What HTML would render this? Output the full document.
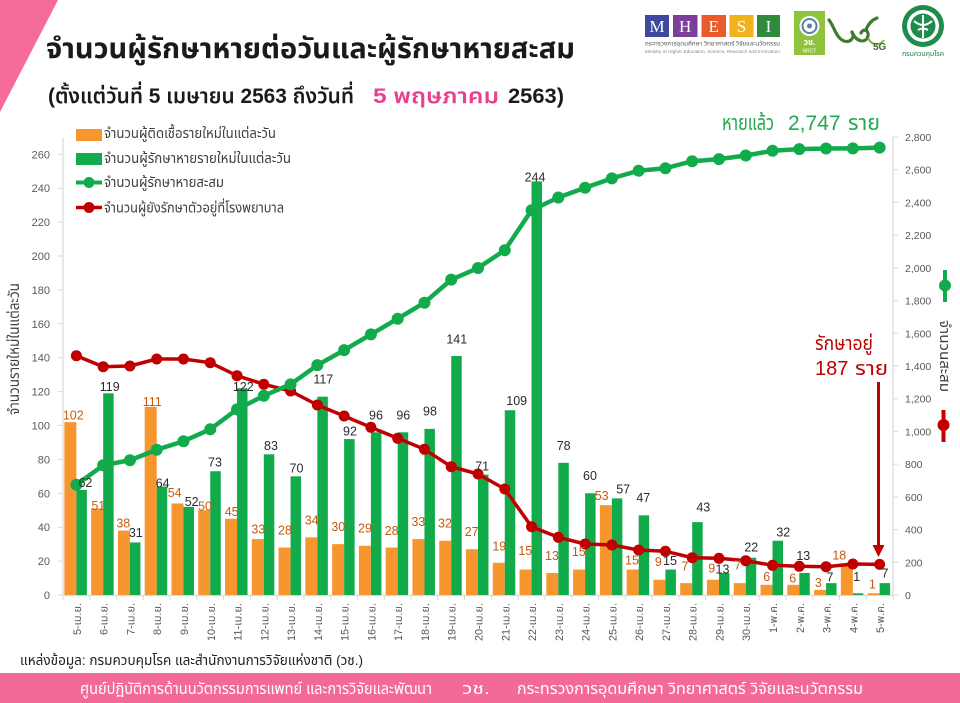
<!DOCTYPE html>
<html><head><meta charset="utf-8">
<style>
html,body{margin:0;padding:0;background:#fff;}
svg{display:block;}
text{font-family:"Liberation Sans","Noto Sans Thai","Noto Sans Thai UI","Loma","Garuda","Tlwg Typo","Norasi","DejaVu Sans",sans-serif;}
</style></head><body>
<svg width="960" height="703" viewBox="0 0 960 703" xmlns="http://www.w3.org/2000/svg">
<rect width="960" height="703" fill="#fff"/>
<polygon points="0,0 58,0 0,112" fill="#f56b99"/>

<!-- Title -->
<text x="46" y="58" font-size="28" font-weight="bold" fill="#1a1a1a" textLength="529" lengthAdjust="spacingAndGlyphs">จำนวนผู้รักษาหายต่อวันและผู้รักษาหายสะสม</text>
<text x="48" y="103" font-size="21" font-weight="600" fill="#1a1a1a" textLength="306" lengthAdjust="spacingAndGlyphs">(ตั้งแต่วันที่ 5 เมษายน 2563 ถึงวันที่</text>
<text x="373" y="103" font-size="21" font-weight="600" fill="#ea3f8f" textLength="126" lengthAdjust="spacingAndGlyphs">5 พฤษภาคม</text>
<text x="508" y="103" font-size="21" font-weight="600" fill="#1a1a1a" textLength="56" lengthAdjust="spacingAndGlyphs">2563)</text>

<!-- Logos -->
<rect x="645" y="15" width="24" height="22" fill="#3e4a9e"/>
<rect x="673" y="15" width="24.5" height="22" fill="#7b3f98"/>
<rect x="701.5" y="15" width="24.5" height="22" fill="#e95b2b"/>
<rect x="729.5" y="15" width="24" height="22" fill="#f1b21e"/>
<rect x="757" y="15" width="23" height="22" fill="#2f8a3c"/>
<g font-size="17" fill="#fff" text-anchor="middle" style="font-family:'Liberation Serif',serif">
<text x="657" y="32" style="font-family:'Liberation Serif',serif">M</text><text x="685.2" y="32" style="font-family:'Liberation Serif',serif">H</text><text x="713.7" y="32" style="font-family:'Liberation Serif',serif">E</text><text x="741.5" y="32" style="font-family:'Liberation Serif',serif">S</text><text x="768.5" y="32" style="font-family:'Liberation Serif',serif">I</text>
</g>
<text x="645" y="45.5" font-size="6" fill="#555" textLength="135" lengthAdjust="spacingAndGlyphs">กระทรวงการอุดมศึกษา วิทยาศาสตร์ วิจัยและนวัตกรรม</text>
<text x="645" y="53" font-size="4.5" fill="#888" textLength="135" lengthAdjust="spacingAndGlyphs">Ministry of Higher Education, Science, Research and Innovation</text>

<rect x="794" y="11" width="31" height="44" fill="#8fc33e"/>
<circle cx="809.5" cy="26" r="10" fill="#fff"/>
<circle cx="809.5" cy="26" r="7" fill="none" stroke="#5a7fa8" stroke-width="2"/>
<circle cx="809.5" cy="26" r="2.5" fill="#5a7fa8"/>
<text x="809.5" y="45" font-size="8.5" font-weight="bold" fill="#fff" text-anchor="middle">วช.</text>
<text x="809.5" y="52.5" font-size="5" fill="#fff" text-anchor="middle">NRCT</text>

<path d="M829,20 C834,26 836,38 844,41 C851,43 855,37 852,32" stroke="#3d7a2c" stroke-width="3.2" fill="none" stroke-linecap="round"/>
<path d="M852,32 C856,42 866,44 868,36 C869,30 863,28 861,33 M866,30 C868,24 872,20 877,18" stroke="#3d7a2c" stroke-width="3.2" fill="none" stroke-linecap="round"/>
<path d="M868,38 C872,46 880,46 884,40" stroke="#7fb04a" stroke-width="2" fill="none"/>
<text x="873" y="50" font-size="10" font-weight="bold" fill="#4a6a2a">5G</text>

<circle cx="923" cy="26" r="21" fill="#1f8b4c"/>
<circle cx="923" cy="26" r="16" fill="#fff"/>
<circle cx="923" cy="26" r="12.5" fill="#1f8b4c"/>
<path d="M923,15 V38 M914,21 Q923,29 932,21 M918,30 Q923,27 928,30" stroke="#fff" stroke-width="2" fill="none"/>
<text x="923" y="56" font-size="7" fill="#1f7a3f" text-anchor="middle" textLength="42" lengthAdjust="spacingAndGlyphs">กรมควบคุมโรค</text>

<!-- Annotation top right -->
<text x="722" y="130" font-size="21" fill="#1faa4f" textLength="52" lengthAdjust="spacingAndGlyphs">หายแล้ว</text>
<text x="788" y="130" font-size="21" fill="#1faa4f">2,747</text>
<text x="848" y="130" font-size="21" fill="#1faa4f" textLength="32" lengthAdjust="spacingAndGlyphs">ราย</text>

<!-- Legend -->
<rect x="76" y="129" width="26" height="12" fill="#f7952f"/>
<rect x="76" y="153" width="26" height="12" fill="#12ab4c"/>
<line x1="76" y1="182.5" x2="102" y2="182.5" stroke="#12ab4c" stroke-width="4"/>
<circle cx="89" cy="182.5" r="5.5" fill="#12ab4c"/>
<line x1="76" y1="207.5" x2="102" y2="207.5" stroke="#c00000" stroke-width="3.5"/>
<circle cx="89" cy="207.5" r="5.5" fill="#c00000"/>
<g font-size="14" fill="#404040">
<text x="104" y="138" textLength="172" lengthAdjust="spacingAndGlyphs">จำนวนผู้ติดเชื้อรายใหม่ในแต่ละวัน</text>
<text x="104" y="163" textLength="187" lengthAdjust="spacingAndGlyphs">จำนวนผู้รักษาหายรายใหม่ในแต่ละวัน</text>
<text x="104" y="187" textLength="120" lengthAdjust="spacingAndGlyphs">จำนวนผู้รักษาหายสะสม</text>
<text x="104" y="212.5" textLength="180" lengthAdjust="spacingAndGlyphs">จำนวนผู้ยังรักษาตัวอยู่ที่โรงพยาบาล</text>
</g>

<!-- Axes -->
<line x1="63" y1="138" x2="63" y2="595" stroke="#d9d9d9" stroke-width="1.2"/>
<line x1="893" y1="137" x2="893" y2="595" stroke="#d9d9d9" stroke-width="1.2"/>
<line x1="63" y1="595.5" x2="893" y2="595.5" stroke="#d9d9d9" stroke-width="1.2"/>
<path stroke="#d9d9d9" stroke-width="1" d="M63,595V600M89.77,595V600M116.55,595V600M143.32,595V600M170.1,595V600M196.87,595V600M223.65,595V600M250.42,595V600M277.19,595V600M303.97,595V600M330.74,595V600M357.52,595V600M384.29,595V600M411.06,595V600M437.84,595V600M464.61,595V600M491.39,595V600M518.16,595V600M544.94,595V600M571.71,595V600M598.48,595V600M625.26,595V600M652.03,595V600M678.81,595V600M705.58,595V600M732.35,595V600M759.13,595V600M785.9,595V600M812.68,595V600M839.45,595V600M866.23,595V600M893,595V600"/>
<path stroke="#d9d9d9" stroke-width="1" d="M58,595H63M58,561.1H63M58,527.2H63M58,493.3H63M58,459.4H63M58,425.5H63M58,391.6H63M58,357.7H63M58,323.8H63M58,289.9H63M58,256H63M58,222.1H63M58,188.2H63M58,154.3H63 M893,595H898M893,562.3H898M893,529.6H898M893,496.9H898M893,464.1H898M893,431.4H898M893,398.7H898M893,366H898M893,333.3H898M893,300.6H898M893,267.9H898M893,235.1H898M893,202.4H898M893,169.7H898M893,137H898"/>

<g font-size="11" fill="#595959" text-anchor="end">
<text x="50" y="599">0</text><text x="50" y="565.1">20</text><text x="50" y="531.2">40</text><text x="50" y="497.3">60</text><text x="50" y="463.4">80</text><text x="50" y="429.5">100</text><text x="50" y="395.6">120</text><text x="50" y="361.7">140</text><text x="50" y="327.8">160</text><text x="50" y="293.9">180</text><text x="50" y="260">200</text><text x="50" y="226.1">220</text><text x="50" y="192.2">240</text><text x="50" y="158.3">260</text>
</g>
<g font-size="10.5" fill="#595959">
<text x="905" y="599">0</text><text x="905" y="566.3">200</text><text x="905" y="533.6">400</text><text x="905" y="500.9">600</text><text x="905" y="468.1">800</text><text x="905" y="435.4">1,000</text><text x="905" y="402.7">1,200</text><text x="905" y="370">1,400</text><text x="905" y="337.3">1,600</text><text x="905" y="304.6">1,800</text><text x="905" y="271.9">2,000</text><text x="905" y="239.1">2,200</text><text x="905" y="206.4">2,400</text><text x="905" y="173.7">2,600</text><text x="905" y="141">2,800</text>
</g>

<text transform="translate(19,349) rotate(-90)" text-anchor="middle" font-size="15" fill="#404040" textLength="132" lengthAdjust="spacingAndGlyphs">จำนวนรายใหม่ในแต่ละวัน</text>
<text transform="translate(940,356) rotate(90)" text-anchor="middle" font-size="14" fill="#404040" textLength="72" lengthAdjust="spacingAndGlyphs">จำนวนสะสม</text>
<line x1="945" y1="270" x2="945" y2="302" stroke="#12ab4c" stroke-width="4"/>
<circle cx="945" cy="285.5" r="6" fill="#12ab4c"/>
<line x1="943.5" y1="410" x2="943.5" y2="442" stroke="#c00000" stroke-width="4"/>
<circle cx="943.5" cy="425" r="6" fill="#c00000"/>

<!-- Orange bars -->
<g fill="#f7952f">
<rect x="64.39" y="422.11" width="12" height="172.89"/>
<rect x="91.16" y="508.55" width="12" height="86.45"/>
<rect x="117.94" y="530.59" width="12" height="64.41"/>
<rect x="144.71" y="406.85" width="12" height="188.15"/>
<rect x="171.48" y="503.47" width="12" height="91.53"/>
<rect x="198.26" y="510.25" width="12" height="84.75"/>
<rect x="225.03" y="518.72" width="12" height="76.28"/>
<rect x="251.81" y="539.06" width="12" height="55.94"/>
<rect x="278.58" y="547.54" width="12" height="47.46"/>
<rect x="305.35" y="537.37" width="12" height="57.63"/>
<rect x="332.13" y="544.15" width="12" height="50.85"/>
<rect x="358.9" y="545.84" width="12" height="49.16"/>
<rect x="385.68" y="547.54" width="12" height="47.46"/>
<rect x="412.45" y="539.06" width="12" height="55.94"/>
<rect x="439.23" y="540.76" width="12" height="54.24"/>
<rect x="466" y="549.23" width="12" height="45.77"/>
<rect x="492.77" y="562.79" width="12" height="32.21"/>
<rect x="519.55" y="569.57" width="12" height="25.43"/>
<rect x="546.32" y="572.96" width="12" height="22.04"/>
<rect x="573.1" y="569.57" width="12" height="25.43"/>
<rect x="599.87" y="505.16" width="12" height="89.84"/>
<rect x="626.65" y="569.57" width="12" height="25.43"/>
<rect x="653.42" y="579.74" width="12" height="15.26"/>
<rect x="680.19" y="583.13" width="12" height="11.87"/>
<rect x="706.97" y="579.74" width="12" height="15.26"/>
<rect x="733.74" y="583.13" width="12" height="11.87"/>
<rect x="760.52" y="584.83" width="12" height="10.17"/>
<rect x="787.29" y="584.83" width="12" height="10.17"/>
<rect x="814.06" y="589.91" width="12" height="5.09"/>
<rect x="840.84" y="564.49" width="12" height="30.51"/>
<rect x="867.61" y="593.3" width="12" height="1.7"/>
</g>
<!-- Green bars -->
<g fill="#12ab4c">
<rect x="76.39" y="489.91" width="10.5" height="105.09"/>
<rect x="103.16" y="393.29" width="10.5" height="201.71"/>
<rect x="129.94" y="542.45" width="10.5" height="52.55"/>
<rect x="156.71" y="486.52" width="10.5" height="108.48"/>
<rect x="183.48" y="506.86" width="10.5" height="88.14"/>
<rect x="210.26" y="471.26" width="10.5" height="123.74"/>
<rect x="237.03" y="388.21" width="10.5" height="206.79"/>
<rect x="263.81" y="454.31" width="10.5" height="140.69"/>
<rect x="290.58" y="476.35" width="10.5" height="118.65"/>
<rect x="317.35" y="396.68" width="10.5" height="198.32"/>
<rect x="344.13" y="439.06" width="10.5" height="155.94"/>
<rect x="370.9" y="432.28" width="10.5" height="162.72"/>
<rect x="397.68" y="432.28" width="10.5" height="162.72"/>
<rect x="424.45" y="428.89" width="10.5" height="166.11"/>
<rect x="451.23" y="356" width="10.5" height="239"/>
<rect x="478" y="474.65" width="10.5" height="120.35"/>
<rect x="504.77" y="410.24" width="10.5" height="184.76"/>
<rect x="531.55" y="181.42" width="10.5" height="413.58"/>
<rect x="558.32" y="462.79" width="10.5" height="132.21"/>
<rect x="585.1" y="493.3" width="10.5" height="101.7"/>
<rect x="611.87" y="498.38" width="10.5" height="96.62"/>
<rect x="638.65" y="515.33" width="10.5" height="79.67"/>
<rect x="665.42" y="569.57" width="10.5" height="25.43"/>
<rect x="692.19" y="522.11" width="10.5" height="72.89"/>
<rect x="718.97" y="572.96" width="10.5" height="22.04"/>
<rect x="745.74" y="557.71" width="10.5" height="37.29"/>
<rect x="772.52" y="540.76" width="10.5" height="54.24"/>
<rect x="799.29" y="572.96" width="10.5" height="22.04"/>
<rect x="826.06" y="583.13" width="10.5" height="11.87"/>
<rect x="852.84" y="593.3" width="10.5" height="1.7"/>
<rect x="879.61" y="583.13" width="10.5" height="11.87"/>
</g>

<!-- Red line -->
<polyline fill="none" stroke="#c00000" stroke-width="3.5" stroke-linejoin="round" points="76.39,355.7 103.16,366.7 129.94,366 156.71,359 183.48,359 210.26,362.7 237.03,375.7 263.81,384.3 290.58,391 317.35,405 344.13,416 370.9,427.3 397.68,438.3 424.45,449.3 451.23,466.7 478,474 504.77,489 531.55,526.7 558.32,537.3 585.1,544 611.87,545 638.65,550 665.42,551.3 692.19,557.7 718.97,558.3 745.74,560.7 772.52,565.3 799.29,566.3 826.06,566.7 852.84,564 879.61,564.4"/>
<g fill="#c00000">
<circle cx="76.39" cy="355.7" r="5.5"/><circle cx="103.16" cy="366.7" r="5.5"/><circle cx="129.94" cy="366" r="5.5"/><circle cx="156.71" cy="359" r="5.5"/><circle cx="183.48" cy="359" r="5.5"/><circle cx="210.26" cy="362.7" r="5.5"/><circle cx="237.03" cy="375.7" r="5.5"/><circle cx="263.81" cy="384.3" r="5.5"/><circle cx="290.58" cy="391" r="5.5"/><circle cx="317.35" cy="405" r="5.5"/><circle cx="344.13" cy="416" r="5.5"/><circle cx="370.9" cy="427.3" r="5.5"/><circle cx="397.68" cy="438.3" r="5.5"/><circle cx="424.45" cy="449.3" r="5.5"/><circle cx="451.23" cy="466.7" r="5.5"/><circle cx="478" cy="474" r="5.5"/><circle cx="504.77" cy="489" r="5.5"/><circle cx="531.55" cy="526.7" r="5.5"/><circle cx="558.32" cy="537.3" r="5.5"/><circle cx="585.1" cy="544" r="5.5"/><circle cx="611.87" cy="545" r="5.5"/><circle cx="638.65" cy="550" r="5.5"/><circle cx="665.42" cy="551.3" r="5.5"/><circle cx="692.19" cy="557.7" r="5.5"/><circle cx="718.97" cy="558.3" r="5.5"/><circle cx="745.74" cy="560.7" r="5.5"/><circle cx="772.52" cy="565.3" r="5.5"/><circle cx="799.29" cy="566.3" r="5.5"/><circle cx="826.06" cy="566.7" r="5.5"/><circle cx="852.84" cy="564" r="5.5"/><circle cx="879.61" cy="564.4" r="5.5"/>
</g>

<!-- Green cumulative line -->
<polyline fill="none" stroke="#12ab4c" stroke-width="4.5" stroke-linejoin="round" points="76.39,484.75 103.16,465.29 129.94,460.22 156.71,449.75 183.48,441.24 210.26,429.3 237.03,409.35 263.81,395.77 290.58,384.32 317.35,365.18 344.13,350.14 370.9,334.43 397.68,318.73 424.45,302.7 451.23,279.64 478,268.02 504.77,250.19 531.55,210.28 558.32,197.52 585.1,187.71 611.87,178.39 638.65,170.7 665.42,168.25 692.19,161.21 718.97,159.09 745.74,155.49 772.52,150.75 799.29,149.13 826.06,148.48 852.84,148.32 879.61,147.67"/>
<g fill="#12ab4c">
<circle cx="76.39" cy="484.75" r="6"/><circle cx="103.16" cy="465.29" r="6"/><circle cx="129.94" cy="460.22" r="6"/><circle cx="156.71" cy="449.75" r="6"/><circle cx="183.48" cy="441.24" r="6"/><circle cx="210.26" cy="429.3" r="6"/><circle cx="237.03" cy="409.35" r="6"/><circle cx="263.81" cy="395.77" r="6"/><circle cx="290.58" cy="384.32" r="6"/><circle cx="317.35" cy="365.18" r="6"/><circle cx="344.13" cy="350.14" r="6"/><circle cx="370.9" cy="334.43" r="6"/><circle cx="397.68" cy="318.73" r="6"/><circle cx="424.45" cy="302.7" r="6"/><circle cx="451.23" cy="279.64" r="6"/><circle cx="478" cy="268.02" r="6"/><circle cx="504.77" cy="250.19" r="6"/><circle cx="531.55" cy="210.28" r="6"/><circle cx="558.32" cy="197.52" r="6"/><circle cx="585.1" cy="187.71" r="6"/><circle cx="611.87" cy="178.39" r="6"/><circle cx="638.65" cy="170.7" r="6"/><circle cx="665.42" cy="168.25" r="6"/><circle cx="692.19" cy="161.21" r="6"/><circle cx="718.97" cy="159.09" r="6"/><circle cx="745.74" cy="155.49" r="6"/><circle cx="772.52" cy="150.75" r="6"/><circle cx="799.29" cy="149.13" r="6"/><circle cx="826.06" cy="148.48" r="6"/><circle cx="852.84" cy="148.32" r="6"/><circle cx="879.61" cy="147.67" r="6"/>
</g>

<!-- Orange labels -->
<g font-size="12.5" fill="#c55a11" text-anchor="middle">
<text x="73.3" y="419.3">102</text><text x="98.3" y="510">51</text><text x="123.3" y="527.6">38</text><text x="152.2" y="406">111</text><text x="174.7" y="497">54</text><text x="205" y="510.3">50</text><text x="231.7" y="516">45</text><text x="258.3" y="533.3">33</text><text x="285" y="534.3">28</text><text x="311.7" y="524.3">34</text><text x="338.3" y="531">30</text><text x="365" y="532.6">29</text><text x="391.7" y="535">28</text><text x="418.3" y="526">33</text><text x="445" y="527.6">32</text><text x="471.7" y="536">27</text><text x="499.3" y="550.3">19</text><text x="525.3" y="555">15</text><text x="552" y="560">13</text><text x="578.8" y="556">15</text><text x="601.7" y="500">53</text><text x="632" y="564.3">15</text><text x="658.3" y="566">9</text><text x="685" y="570.3">7</text><text x="711.7" y="572.6">9</text><text x="737.7" y="569.3">7</text><text x="766.7" y="581">6</text><text x="792.7" y="582.6">6</text><text x="818.3" y="587">3</text><text x="839.3" y="559.3">18</text><text x="872.3" y="588.3">1</text>
</g>
<!-- Green labels -->
<g font-size="12.5" fill="#2b2b2b" text-anchor="middle">
<text x="85.4" y="487">62</text><text x="109.7" y="391">119</text><text x="135.8" y="537">31</text><text x="162.7" y="487.3">64</text><text x="191.7" y="506">52</text><text x="215" y="466.6">73</text><text x="243.3" y="391">122</text><text x="271" y="450">83</text><text x="296.5" y="472.6">70</text><text x="323.3" y="383.6">117</text><text x="350" y="435.3">92</text><text x="376" y="419.3">96</text><text x="403.3" y="419.3">96</text><text x="430" y="415.3">98</text><text x="456.8" y="343.3">141</text><text x="482.2" y="470.3">71</text><text x="516.7" y="405">109</text><text x="535" y="181.6">244</text><text x="563.7" y="450">78</text><text x="590" y="479.8">60</text><text x="623.2" y="493.3">57</text><text x="643.3" y="502">47</text><text x="670" y="565">15</text><text x="703.3" y="511.6">43</text><text x="722.5" y="573.6">13</text><text x="751.3" y="551.6">22</text><text x="783.3" y="536.6">32</text><text x="803.3" y="560">13</text><text x="830" y="581.6">7</text><text x="856.7" y="581">1</text><text x="885" y="577.6">7</text>
</g>

<!-- X labels -->
<g font-size="11" fill="#595959" text-anchor="end">
<text transform="translate(80.89,603) rotate(-90)" textLength="32" lengthAdjust="spacingAndGlyphs">5-เม.ย.</text>
<text transform="translate(107.66,603) rotate(-90)" textLength="32" lengthAdjust="spacingAndGlyphs">6-เม.ย.</text>
<text transform="translate(134.44,603) rotate(-90)" textLength="32" lengthAdjust="spacingAndGlyphs">7-เม.ย.</text>
<text transform="translate(161.21,603) rotate(-90)" textLength="32" lengthAdjust="spacingAndGlyphs">8-เม.ย.</text>
<text transform="translate(187.98,603) rotate(-90)" textLength="32" lengthAdjust="spacingAndGlyphs">9-เม.ย.</text>
<text transform="translate(214.76,603) rotate(-90)" textLength="38" lengthAdjust="spacingAndGlyphs">10-เม.ย.</text>
<text transform="translate(241.53,603) rotate(-90)" textLength="38" lengthAdjust="spacingAndGlyphs">11-เม.ย.</text>
<text transform="translate(268.31,603) rotate(-90)" textLength="38" lengthAdjust="spacingAndGlyphs">12-เม.ย.</text>
<text transform="translate(295.08,603) rotate(-90)" textLength="38" lengthAdjust="spacingAndGlyphs">13-เม.ย.</text>
<text transform="translate(321.85,603) rotate(-90)" textLength="38" lengthAdjust="spacingAndGlyphs">14-เม.ย.</text>
<text transform="translate(348.63,603) rotate(-90)" textLength="38" lengthAdjust="spacingAndGlyphs">15-เม.ย.</text>
<text transform="translate(375.4,603) rotate(-90)" textLength="38" lengthAdjust="spacingAndGlyphs">16-เม.ย.</text>
<text transform="translate(402.18,603) rotate(-90)" textLength="38" lengthAdjust="spacingAndGlyphs">17-เม.ย.</text>
<text transform="translate(428.95,603) rotate(-90)" textLength="38" lengthAdjust="spacingAndGlyphs">18-เม.ย.</text>
<text transform="translate(455.73,603) rotate(-90)" textLength="38" lengthAdjust="spacingAndGlyphs">19-เม.ย.</text>
<text transform="translate(482.5,603) rotate(-90)" textLength="38" lengthAdjust="spacingAndGlyphs">20-เม.ย.</text>
<text transform="translate(509.27,603) rotate(-90)" textLength="38" lengthAdjust="spacingAndGlyphs">21-เม.ย.</text>
<text transform="translate(536.05,603) rotate(-90)" textLength="38" lengthAdjust="spacingAndGlyphs">22-เม.ย.</text>
<text transform="translate(562.82,603) rotate(-90)" textLength="38" lengthAdjust="spacingAndGlyphs">23-เม.ย.</text>
<text transform="translate(589.6,603) rotate(-90)" textLength="38" lengthAdjust="spacingAndGlyphs">24-เม.ย.</text>
<text transform="translate(616.37,603) rotate(-90)" textLength="38" lengthAdjust="spacingAndGlyphs">25-เม.ย.</text>
<text transform="translate(643.15,603) rotate(-90)" textLength="38" lengthAdjust="spacingAndGlyphs">26-เม.ย.</text>
<text transform="translate(669.92,603) rotate(-90)" textLength="38" lengthAdjust="spacingAndGlyphs">27-เม.ย.</text>
<text transform="translate(696.69,603) rotate(-90)" textLength="38" lengthAdjust="spacingAndGlyphs">28-เม.ย.</text>
<text transform="translate(723.47,603) rotate(-90)" textLength="38" lengthAdjust="spacingAndGlyphs">29-เม.ย.</text>
<text transform="translate(750.24,603) rotate(-90)" textLength="38" lengthAdjust="spacingAndGlyphs">30-เม.ย.</text>
<text transform="translate(777.02,603) rotate(-90)" textLength="30" lengthAdjust="spacingAndGlyphs">1-พ.ค.</text>
<text transform="translate(803.79,603) rotate(-90)" textLength="30" lengthAdjust="spacingAndGlyphs">2-พ.ค.</text>
<text transform="translate(830.56,603) rotate(-90)" textLength="30" lengthAdjust="spacingAndGlyphs">3-พ.ค.</text>
<text transform="translate(857.34,603) rotate(-90)" textLength="30" lengthAdjust="spacingAndGlyphs">4-พ.ค.</text>
<text transform="translate(884.11,603) rotate(-90)" textLength="30" lengthAdjust="spacingAndGlyphs">5-พ.ค.</text>
</g>

<!-- Red annotation -->
<text x="815" y="350" font-size="20" fill="#c00000" textLength="58" lengthAdjust="spacingAndGlyphs">รักษาอยู่</text>
<text x="815" y="375" font-size="20" fill="#c00000">187</text>
<text x="855" y="375" font-size="20" fill="#c00000" textLength="33" lengthAdjust="spacingAndGlyphs">ราย</text>
<line x1="878.5" y1="382" x2="878.5" y2="548" stroke="#c00000" stroke-width="3"/>
<polygon points="872.5,545 884.5,545 878.5,557" fill="#c00000"/>

<!-- Footer -->
<text x="20" y="665" font-size="14" fill="#222" textLength="343" lengthAdjust="spacingAndGlyphs">แหล่งข้อมูล: กรมควบคุมโรค และสำนักงานการวิจัยแห่งชาติ (วช.)</text>
<rect x="0" y="673" width="960" height="30" fill="#f36a97"/>
<g font-size="16" fill="#fff">
<text x="80" y="694" textLength="352" lengthAdjust="spacingAndGlyphs">ศูนย์ปฏิบัติการด้านนวัตกรรมการแพทย์ และการวิจัยและพัฒนา</text>
<text x="462" y="694" textLength="28" lengthAdjust="spacingAndGlyphs">วช.</text>
<text x="517" y="694" textLength="346" lengthAdjust="spacingAndGlyphs">กระทรวงการอุดมศึกษา วิทยาศาสตร์ วิจัยและนวัตกรรม</text>
</g>
</svg>
</body></html>
